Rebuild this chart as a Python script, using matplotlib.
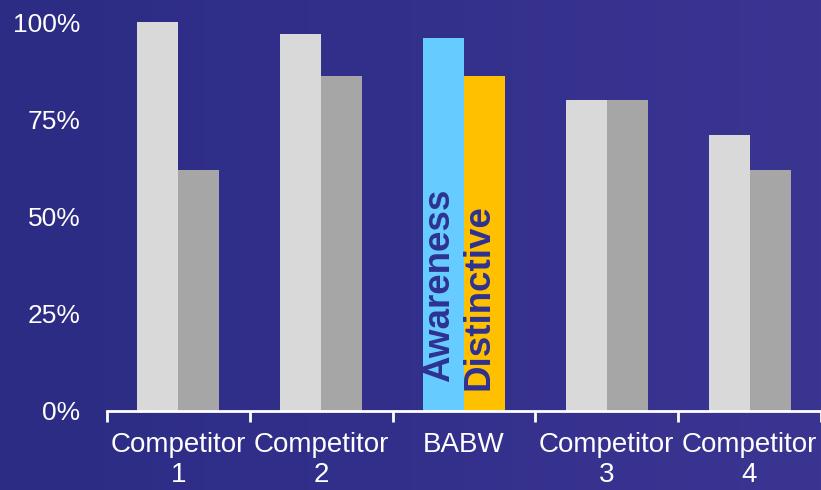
import numpy as np
import matplotlib
matplotlib.use("Agg")
import matplotlib.pyplot as plt
from matplotlib.colors import LinearSegmentedColormap

categories = ["Competitor\n1", "Competitor\n2", "BABW", "Competitor\n3", "Competitor\n4"]
awareness = [100, 97, 96, 80, 71]
distinctive = [62, 86, 86, 80, 62]
yticks = [0, 25, 50, 75, 100]
ytick_labels = ["0%", "25%", "50%", "75%", "100%"]

plt.rcParams["font.family"] = ["Liberation Sans", "DejaVu Sans"]

W, H = 821, 490
fig = plt.figure(figsize=(W / 100, H / 100), dpi=100)

# backdrop: deep blue, a little darker on the left
bg = fig.add_axes([0, 0, 1, 1], zorder=-10)
cmap = LinearSegmentedColormap.from_list("bg", ["#2C2C84", "#33308C", "#3B3592"])
grad = np.tile(np.linspace(0, 1, 256), (64, 1))
bg.imshow(grad, cmap=cmap, aspect="auto", extent=[0, 1, 0, 1])
bg.set_axis_off()

left, right = 107 / W, 1.0
bottom, top = 1 - 411 / H, 1 - 22 / H
ax = fig.add_axes([left, bottom, right - left, top - bottom])
ax.set_facecolor("none")

x = np.arange(len(categories))
bw = 0.287
light = ["#D9D9D9"] * len(categories)
dark = ["#A6A6A6"] * len(categories)
babw = categories.index("BABW")
light[babw] = "#66CCFF"
dark[babw] = "#FFC000"

ax.bar(x - bw / 2, awareness, width=bw, color=light, edgecolor="none", zorder=2)
ax.bar(x + bw / 2, distinctive, width=bw, color=dark, edgecolor="none", zorder=2)

# series names written inside the highlighted bars
txt_color = "#2E3192"
ax.text(babw - bw / 2 - 0.03, 7.5, "Awareness", rotation=90, ha="center", va="bottom",
        fontsize=26.5, fontweight="bold", color=txt_color, zorder=3)
ax.text(babw + bw / 2 - 0.04, 5.4, "Distinctive", rotation=90, ha="center", va="bottom",
        fontsize=26.5, fontweight="bold", color=txt_color, zorder=3)

ax.set_xlim(-0.5, len(categories) - 0.5)
ax.set_ylim(0, 100)

ax.set_yticks(yticks)
ax.set_yticklabels(ytick_labels, color="white", fontsize=19)
ax.tick_params(axis="y", length=0, pad=19)

ax.set_xticks(x)
ax.set_xticklabels(categories, color="white", fontsize=20, linespacing=1.2)
ax.tick_params(axis="x", which="major", length=0, pad=15)
ax.set_xticks(np.arange(-0.5, len(categories)), minor=True)
ax.tick_params(axis="x", which="minor", length=8, width=2, color="white", direction="out")

for s in ["top", "right", "left"]:
    ax.spines[s].set_visible(False)
ax.spines["bottom"].set_color("white")
ax.spines["bottom"].set_linewidth(2)
ax.spines["bottom"].set_zorder(4)

fig.savefig("out.png", dpi=100)
